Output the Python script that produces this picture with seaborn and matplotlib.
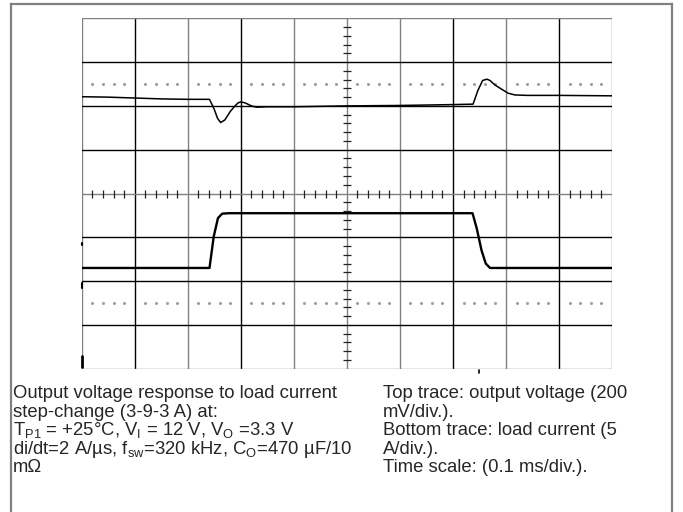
import numpy as np
import seaborn as sns
import matplotlib.pyplot as plt
from matplotlib.lines import Line2D

# time in divisions (0.1 ms/div), level in divisions from bottom of screen
top_t = [0.0, 0.5, 1.0, 1.5, 2.0, 2.41, 2.5, 2.56, 2.62, 2.7, 2.8, 2.89, 2.95, 3.0, 3.08, 3.2,
         3.3, 3.5, 4.0, 5.0, 6.0, 7.0, 7.38, 7.47, 7.56, 7.64, 7.7, 7.79, 7.92, 8.04, 8.17,
         8.4, 9.0, 10.0]
top_v = [6.21, 6.20, 6.18, 6.16, 6.15, 6.15, 5.92, 5.72, 5.62, 5.68, 5.87, 6.0, 6.07, 6.09, 6.07, 6.0,
         5.97, 5.98, 5.98, 6.0, 6.01, 6.03, 6.04, 6.35, 6.58, 6.61, 6.58, 6.48, 6.38, 6.29, 6.25,
         6.24, 6.24, 6.23]

bot_t = [0.0, 1.0, 2.0, 2.41, 2.49, 2.57, 2.65, 2.78, 4.0, 5.0, 6.0, 7.37, 7.45, 7.54, 7.62, 7.70,
         8.5, 10.0]
bot_v = [2.30, 2.30, 2.30, 2.30, 3.02, 3.44, 3.54, 3.55, 3.55, 3.55, 3.55, 3.55, 3.2, 2.7, 2.4, 2.30,
         2.30, 2.30]

left_text = [
    "Output voltage response to load current",
    "step-change (3-9-3 A) at:",
    r"T$_\mathregular{P1}$ = +25°C, V$_\mathregular{I}$ = 12 V, V$_\mathregular{O}$ =3.3 V",
    r"di/dt=2 A/µs, f$_\mathregular{sw}$=320 kHz, C$_\mathregular{O}$=470 µF/10",
    "mΩ",
]
right_text = [
    "Top trace: output voltage (200",
    "mV/div.).",
    "Bottom trace: load current (5",
    "A/div.).",
    "Time scale: (0.1 ms/div.).",
]

sns.set_style("white")
plt.rcParams['font.family'] = ['Liberation Sans', 'DejaVu Sans']

W, H = 683, 512
fig = plt.figure(figsize=(W / 100, H / 100), dpi=100)

# outer frame (left, top, right)
gray = "#808080"
for xs, ys in [([11 / W, 11 / W], [0, 1 - 4 / H]),
               ([11 / W, 672 / W], [1 - 4 / H, 1 - 4 / H]),
               ([672 / W, 672 / W], [1 - 4 / H, 0])]:
    fig.add_artist(Line2D(xs, ys, color=gray, lw=1.6, solid_capstyle="projecting"))

ax = fig.add_axes([81.7 / W, 1 - 368.7 / H, 530.3 / W, 350.4 / H])
ax.set_xlim(0, 10)
ax.set_ylim(0, 8)
for s in ax.spines.values():
    s.set_visible(False)
ax.set_xticks([])
ax.set_yticks([])

# graticule
dark_cols = [1, 3, 7, 9]
for i in range(11):
    c = "black" if i in dark_cols else gray
    ax.axvline(i, color=c, lw=1.0, zorder=1)
for j in range(9):
    c = gray if j in (0, 4, 8) else "black"
    ax.axhline(j, color=c, lw=1.0, zorder=1)

fine = [k / 5 for k in range(51) if k % 5]
ax.plot(fine, [4] * len(fine), ls="none", marker="|", ms=6, mew=0.9, color="#222222")
fine_y = [k / 5 for k in range(41) if k % 5]
ax.plot([5] * len(fine_y), fine_y, ls="none", marker="_", ms=6, mew=0.9, color="#222222")
for yd in (6.5, 1.5):
    ax.plot(fine, [yd] * len(fine), ls="none", marker="s", ms=1.0, color="#9a9a9a")

# traces
sns.lineplot(x=top_t, y=top_v, ax=ax, color="black", lw=1.1, sort=False, estimator=None)
sns.lineplot(x=bot_t, y=bot_v, ax=ax, color="black", lw=1.7, sort=False, estimator=None)

# channel / trigger markers at the screen edge
ax.plot([0, 0], [0.04, 0.29], color="black", lw=2, clip_on=False)
ax.plot([0, 0], [1.85, 1.95], color="black", lw=1.5, clip_on=False)
ax.plot([0, 0], [2.82, 2.88], color="black", lw=1.5, clip_on=False)
ax.plot([7.5, 7.5], [-0.03, -0.1], color="black", lw=1.2, clip_on=False)

fs = 13.3
for k, line in enumerate(left_text):
    fig.text(13 / W, 1 - (398 + k * 18.6) / H, line, fontsize=fs, va="baseline", ha="left")
for k, line in enumerate(right_text):
    fig.text(383 / W, 1 - (398 + k * 18.6) / H, line, fontsize=fs, va="baseline", ha="left")

fig.savefig("out.png", dpi=100)
